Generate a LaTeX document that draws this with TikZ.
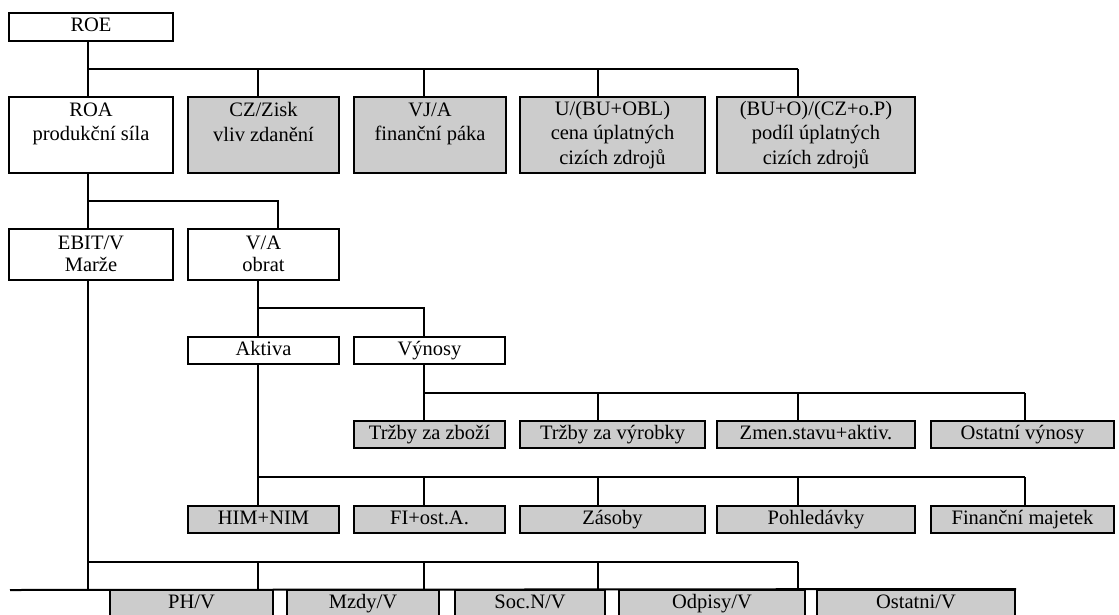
\documentclass[tikz,border=0pt]{standalone}
\usepackage{fontspec}
\setmainfont{Liberation Serif}

\begin{document}
\begin{tikzpicture}[x=1pt,y=-1pt,line width=2pt,
		base node/.style={draw,rectangle,align=center,inner sep=0pt,font=\fontsize{20.5}{24.5}\selectfont},
		white node/.style={base node,fill=white}, grey node/.style={base node,fill=black!20},
		line node/.style={minimum height=27pt, execute at begin node=\strut},
		tall node/.style={minimum height=76pt,
			execute at begin node={\rule{0pt}{19pt}}, execute at end node={\rule[-2pt]{0pt}{2pt}}},
		mid node/.style={minimum height=51pt, font=\fontsize{20.5}{21.5}\selectfont,
			execute at begin node={\rule{0pt}{20pt}}, execute at end node={\rule[-2pt]{0pt}{2pt}}}]
		\useasboundingbox (0,0) rectangle (1119,614);
		% ROE
		\node[white node, line node, minimum width=164pt, minimum height=28pt] (ROE) at (91,27) {ROE};
		% rozklad ROE
		\node[white node, tall node, minimum width=164pt] (ROA) at (91,135) {ROA\\produkční síla\\\mbox{}};
		\node[grey node, tall node, minimum width=151pt] (CZ) at (263.5,135) {CZ/Zisk\\vliv zdanění\\\mbox{}};
		\node[grey node, tall node, minimum width=152pt] (VJ) at (430,135) {VJ/A\\finanční páka\\\mbox{}};
		\node[grey node, tall node, minimum width=185pt] (U) at (612.5,135) {U/(BU+OBL)\\cena úplatných\\cizích zdrojů};
		\node[grey node, tall node, minimum width=198pt] (BU) at (816,135) {(BU+O)/(CZ+o.P)\\podíl úplatných\\cizích zdrojů};
		% ROA
		\node[white node, mid node, minimum width=164pt] (EBIT) at (91,254.5) {EBIT/V\\Marže};
		\node[white node, mid node, minimum width=151pt] (VA) at (263.5,254.5) {V/A\\obrat};
		\node[white node, line node, minimum width=151pt] (Aktiva) at (263.5,350.5) {Aktiva};
		\node[white node, line node, minimum width=151pt] (Vynosy) at (429.5,350.5) {Výnosy};
		% vynosy
		\node[grey node, line node, minimum width=151pt] (TZ) at (429.5,434.5) {Tržby za zboží};
		\node[grey node, line node, minimum width=185pt] (TV) at (612.5,434.5) {Tržby za výrobky};
		\node[grey node, line node, minimum width=198pt] (ZS) at (816,434.5) {Zmen.stavu+aktiv.};
		\node[grey node, line node, minimum width=183pt] (OV) at (1022.5,434.5) {Ostatní výnosy};
		% aktiva
		\node[grey node, line node, minimum width=151pt] (HIM) at (263.5,519.5) {HIM+NIM};
		\node[grey node, line node, minimum width=151pt] (FI) at (429.5,519.5) {FI+ost.A.};
		\node[grey node, line node, minimum width=185pt] (ZA) at (612.5,519.5) {Zásoby};
		\node[grey node, line node, minimum width=198pt] (PO) at (816,519.5) {Pohledávky};
		\node[grey node, line node, minimum width=183pt] (FM) at (1022.5,519.5) {Finanční majetek};
		% marze
		\node[grey node, line node, minimum width=163pt, minimum height=28pt] (PH) at (191.5,604) {PH/V};
		\node[grey node, line node, minimum width=152pt, minimum height=28pt] (MZ) at (363,604) {Mzdy/V};
		\node[grey node, line node, minimum width=150pt, minimum height=28pt] (SN) at (530,604) {Soc.N/V};
		\node[grey node, line node, minimum width=186pt, minimum height=28pt] (OD) at (712,604) {Odpisy/V};
		\node[grey node, line node, minimum width=198pt, minimum height=28pt] (OS) at (916,604) {Ostatni/V};
		\coordinate (base) at (10,590);

		% vetve
		\foreach \n/\x in {ROA/88, CZ/258, VJ/424, U/598, BU/798}{
			\coordinate (t\n) at (\x,69);
			\draw (t\n) -- (t\n |- \n.north);
		}
		\draw (ROE.south -| tROA) -- (tROA) -- (tBU);

		\coordinate (s1) at (88,201);
		\coordinate (s2) at (278,201);
		\draw (ROA.south -| s1) -- (s1 |- EBIT.north);
		\draw (s1) -- (s2) -- (s2 |- VA.north);

		\coordinate (v1) at (258,308);
		\coordinate (v2) at (424,308);
		\draw (VA.south -| v1) -- (v1 |- Aktiva.north);
		\draw (v1) -- (v2) -- (v2 |- Vynosy.north);

		\foreach \n/\x in {TZ/424, TV/598, ZS/798, OV/1025}{
			\coordinate (w\n) at (\x,393);
			\draw (w\n) -- (w\n |- \n.north);
		}
		\draw (Vynosy.south -| wTZ) -- (wTZ) -- (wOV);

		\foreach \n/\x in {HIM/258, FI/424, ZA/598, PO/798, FM/1025}{
			\coordinate (a\n) at (\x,477);
			\draw (a\n) -- (a\n |- \n.north);
		}
		\draw (Aktiva.south -| aHIM) -- (aHIM) -- (aFM);

		\foreach \n/\x in {0/88, 1/258, 2/424, 3/598, 4/798}{
			\coordinate (m\n) at (\x,562);
			\draw (m\n) -- (m\n |- base);
		}
		\draw (EBIT.south -| m0) -- (m0) -- (m4);
		\draw (base) -- (OS.north east);
\end{tikzpicture}
\end{document}
